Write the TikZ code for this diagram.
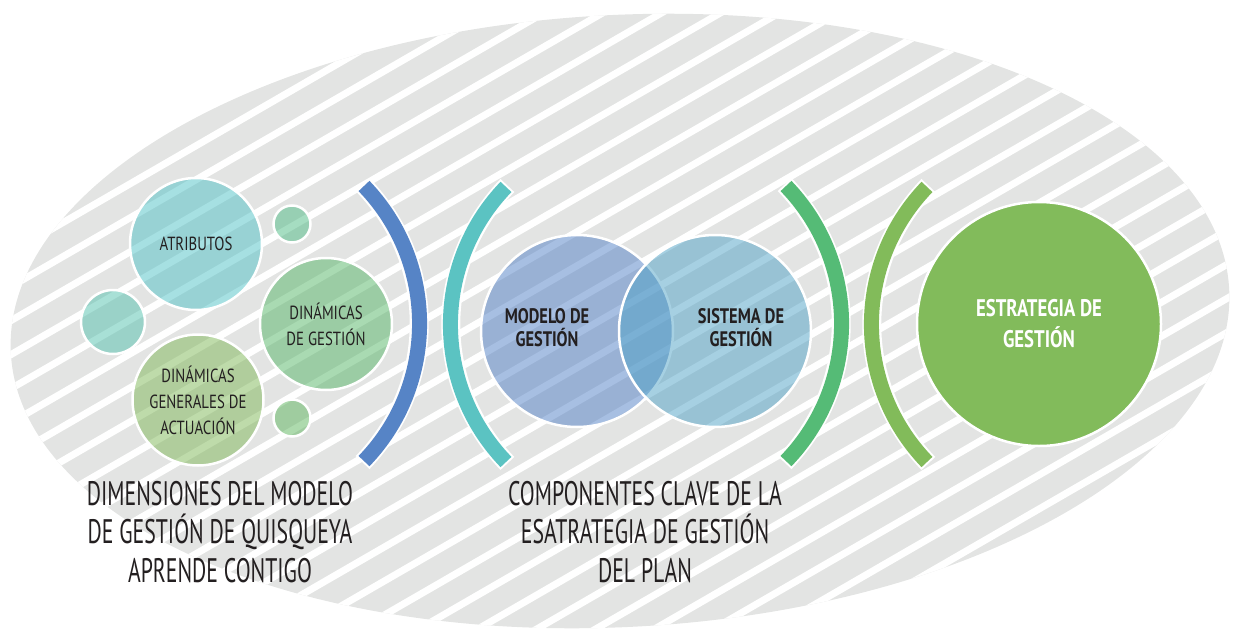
\documentclass[tikz,border=0pt]{standalone}
\usepackage{fontspec}
\setmainfont{PT Sans}[FakeStretch=0.78]
\newfontfamily\capfont{PT Sans}[FakeStretch=0.64]
\usetikzlibrary{positioning,calc}

\definecolor{stripegray}{HTML}{E3E4E3}
\definecolor{inktext}{HTML}{231F20}
\definecolor{atribcol}{HTML}{4FC2C7}
\definecolor{mintcol}{HTML}{53C2AF}
\definecolor{smallcol}{HTML}{4DBC85}
\definecolor{smallgreen}{HTML}{5DB65D}
\definecolor{dingescol}{HTML}{55B667}
\definecolor{dingencol}{HTML}{7FB857}
\definecolor{modelocol}{HTML}{5180C7}
\definecolor{sistemacol}{HTML}{4FA2C7}
\definecolor{estratcol}{HTML}{82BB5B}
\definecolor{bluearc}{HTML}{5684C6}
\definecolor{tealarc}{HTML}{5BC3C2}
\definecolor{greenarc}{HTML}{55BB76}
\definecolor{limearc}{HTML}{82BB5A}

\tikzset{
  bubble/.style={circle,draw=white,line width=2.5pt,fill opacity=0.5,text opacity=1,inner sep=0pt,
    align=center,text=inktext,font=\fontsize{19}{26}\selectfont},
  bracket/.style={line width=15pt,preaction={draw=white,line width=19pt,shorten <=-2pt,shorten >=-2pt}},
  caption/.style={align=center,text=inktext,font=\capfont\fontsize{34}{38.5}\selectfont},
  keytext/.style={align=center,text=inktext,font=\fontsize{21}{23}\bfseries\selectfont}
}

\begin{document}
\begin{tikzpicture}[x=1pt,y=-1pt]
% Parameters
\def\arcR{198}
\def\stripeGap{34}
\useasboundingbox (0,0) rectangle (1235,632);

% Striped background
\begin{scope}
\clip[rotate around={3:(620,321)}] (620,321) ellipse [x radius=610, y radius=306];
\fill[stripegray] (0,0) rectangle (1235,632);
\foreach \k in {-10,...,30}
  \draw[white,line width=7pt] (-900,{846.6+\stripeGap*\k}) -- (1300,{-423.7+\stripeGap*\k});
\end{scope}

% Dimensions
\node[bubble,fill=atribcol,minimum size=132pt] (atributos) at (196,244) {ATRIBUTOS};
\node[bubble,fill=smallcol,minimum size=37pt] (dotTop) at (292,224) {};
\node[bubble,fill=mintcol,minimum size=64pt] (dotLeft) at (113,322) {};
\node[bubble,fill=dingescol,minimum size=132pt] (dingestion) at (326,324) {DINÁMICAS\\DE GESTIÓN};
\node[bubble,fill=dingencol,minimum size=131pt] (dingeneral) at (198,400) {DINÁMICAS\\GENERALES DE\\ACTUACIÓN};
\node[bubble,fill=smallgreen,minimum size=37pt] (dotBottom) at (292,418) {};

% Brackets
\draw[bracket,bluearc] (364,186) arc[start angle=-44,end angle=44,radius=\arcR];
\draw[bracket,tealarc] (506,462) arc[start angle=136,end angle=224,radius=\arcR];
\draw[bracket,greenarc] (786,186) arc[start angle=-44,end angle=44,radius=\arcR];
\draw[bracket,limearc] (927,462) arc[start angle=136,end angle=224,radius=\arcR];

% Key components
\node[bubble,fill=modelocol,minimum size=192pt] (modelo) at (577,331) {};
\node[bubble,fill=sistemacol,minimum size=192pt] (sistema) at (715,331) {};
\node[keytext] (modeloTxt) at ([xshift=-30,yshift=3]modelo.center) {MODELO DE\\GESTIÓN};
\node[keytext] (sistemaTxt) at ([xshift=26,yshift=3]sistema.center) {SISTEMA DE\\GESTIÓN};

% Strategy
\node[bubble,fill=estratcol,fill opacity=1,minimum size=244pt,text=white,
  font=\fontsize{24}{31}\bfseries\selectfont] (estrategia) at (1039,324) {ESTRATEGIA DE\\GESTIÓN};

% Captions
\node[caption] (dimTxt) at (220,532) {DIMENSIONES DEL MODELO\\DE GESTIÓN DE QUISQUEYA\\APRENDE CONTIGO};
\node[caption] (compTxt) at (645,532) {COMPONENTES CLAVE DE LA\\ESATRATEGIA DE GESTIÓN\\DEL PLAN};

\end{tikzpicture}
\end{document}
